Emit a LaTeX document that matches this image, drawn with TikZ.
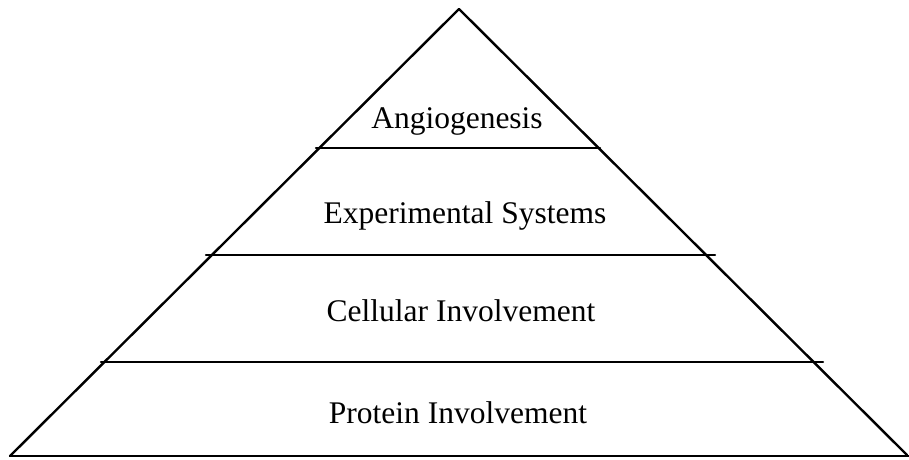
\documentclass[tikz,border=0pt]{standalone}
\usepackage{fontspec}
\setmainfont{Liberation Serif}
\begin{document}
\begin{tikzpicture}[x=1pt,y=-1pt,
  edge/.style={line width=2.4pt,line cap=round,line join=round},
  level/.style={font=\fontsize{31.5}{37}\selectfont,anchor=base,inner sep=0pt}]
\useasboundingbox (0,0) rectangle (909,459);
\coordinate (apex) at (459,9);
\coordinate (bl) at (10,456);
\coordinate (br) at (907,455);
\coordinate (bend) at (909,456);
\draw[edge] (bl) -- (apex) -- (br);
\draw[edge] (bl) -- (bend);
\coordinate (l1a) at (316,148); \coordinate (l1b) at (600,148);
\coordinate (l2a) at (206,255); \coordinate (l2b) at (715,255);
\coordinate (l3a) at (101,362); \coordinate (l3b) at (823,362);
\draw[edge] (l1a) -- (l1b);
\draw[edge] (l2a) -- (l2b);
\draw[edge] (l3a) -- (l3b);
\node[level] (t1) at (457,128) {Angiogenesis};
\node[level] (t2) at (465,223) {Experimental Systems};
\node[level] (t3) at (461,321) {Cellular Involvement};
\node[level] (t4) at (458,423) {Protein Involvement};
\end{tikzpicture}
\end{document}
